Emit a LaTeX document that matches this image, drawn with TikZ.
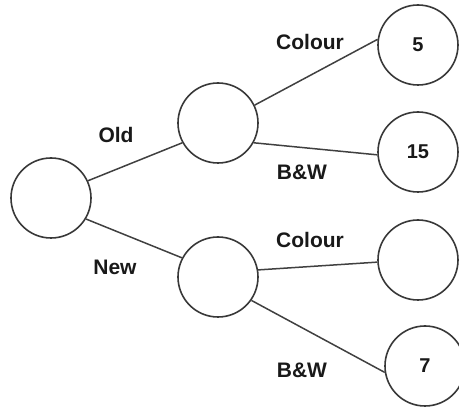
\documentclass[tikz,border=0pt]{standalone}
\usepackage{fontspec}
\setmainfont{Liberation Sans}
\begin{document}
\begin{tikzpicture}[x=1pt,y=-1pt,
  state/.style={circle,draw=black!78,line width=1.6pt,minimum size=80pt,inner sep=0pt,
    font=\fontsize{20}{22}\selectfont\bfseries,text=black!90},
  branch/.style={draw=black!75,line width=1.5pt},
  lbl/.style={font=\fontsize{21}{23}\selectfont\bfseries,text=black!90,inner sep=0pt}]
\useasboundingbox (0,0) rectangle (459,409);
% tree nodes
\node[state] (root) at (51,198) {};
\node[state] (old)  at (218,123) {};
\node[state] (new)  at (218,277) {};
\node[state] (oc)   at (418,45)  {5};
\node[state] (ob)   at (418,152) {15};
\node[state] (nc)   at (418,260) {};
\node[state] (nb)   at (425,366) {7};
% branches
\draw[branch] (root.25)  -- (old.209);
\draw[branch] (root.-31) -- (new.152);
\draw[branch] (old.26)   -- (oc.172);
\draw[branch] (old.-29)  -- (ob.184);
\draw[branch] (new.10)   -- (nc.183);
\draw[branch] (new.-35)  -- (nb.189);
% branch labels
\node[lbl] (lold) at (116,135) {Old};
\node[lbl] (lnew) at (115,267) {New};
\node[lbl] (loc)  at (310,42)  {Colour};
\node[lbl] (lob)  at (302,172) {B\&W};
\node[lbl] (lnc)  at (310,240) {Colour};
\node[lbl] (lnb)  at (302,370) {B\&W};
\end{tikzpicture}
\end{document}
